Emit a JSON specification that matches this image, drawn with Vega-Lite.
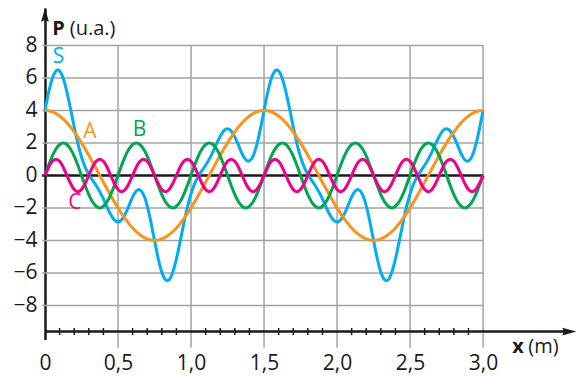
{
  "$schema": "https://vega.github.io/schema/vega-lite/v6.json",
  "width": 533,
  "height": 331.5,
  "autosize": {"type": "none"},
  "padding": {"left": 45, "top": 8, "right": 4, "bottom": 36.5},
  "background": "white",
  "config": {"view": {"stroke": null}, "font": "Open Sans"},
  "datasets": {
    "waves": [
      {"x":0,"S":4,"A":4,"B":0,"C":0},
      {"x":0.025,"S":5.1,"A":3.98,"B":0.62,"C":0.5},
      {"x":0.05,"S":5.96,"A":3.91,"B":1.18,"C":0.87},
      {"x":0.075,"S":6.42,"A":3.8,"B":1.62,"C":1},
      {"x":0.1,"S":6.42,"A":3.65,"B":1.9,"C":0.87},
      {"x":0.125,"S":5.96,"A":3.46,"B":2,"C":0.5},
      {"x":0.15,"S":5.14,"A":3.24,"B":1.9,"C":0},
      {"x":0.175,"S":4.09,"A":2.97,"B":1.62,"C":-0.5},
      {"x":0.2,"S":2.99,"A":2.68,"B":1.18,"C":-0.87},
      {"x":0.225,"S":1.97,"A":2.35,"B":0.62,"C":-1},
      {"x":0.25,"S":1.13,"A":2,"B":0,"C":-0.87},
      {"x":0.275,"S":0.51,"A":1.63,"B":-0.62,"C":-0.5},
      {"x":0.3,"S":0.06,"A":1.24,"B":-1.18,"C":0},
      {"x":0.325,"S":-0.29,"A":0.83,"B":-1.62,"C":0.5},
      {"x":0.35,"S":-0.62,"A":0.42,"B":-1.9,"C":0.87},
      {"x":0.375,"S":-1,"A":0,"B":-2,"C":1},
      {"x":0.4,"S":-1.45,"A":-0.42,"B":-1.9,"C":0.87},
      {"x":0.425,"S":-1.95,"A":-0.83,"B":-1.62,"C":0.5},
      {"x":0.45,"S":-2.41,"A":-1.24,"B":-1.18,"C":0},
      {"x":0.475,"S":-2.75,"A":-1.63,"B":-0.62,"C":-0.5},
      {"x":0.5,"S":-2.87,"A":-2,"B":0,"C":-0.87},
      {"x":0.525,"S":-2.73,"A":-2.35,"B":0.62,"C":-1},
      {"x":0.55,"S":-2.37,"A":-2.68,"B":1.18,"C":-0.87},
      {"x":0.575,"S":-1.86,"A":-2.97,"B":1.62,"C":-0.5},
      {"x":0.6,"S":-1.33,"A":-3.24,"B":1.9,"C":0},
      {"x":0.625,"S":-0.96,"A":-3.46,"B":2,"C":0.5},
      {"x":0.65,"S":-0.89,"A":-3.65,"B":1.9,"C":0.87},
      {"x":0.675,"S":-1.19,"A":-3.8,"B":1.62,"C":1},
      {"x":0.7,"S":-1.87,"A":-3.91,"B":1.18,"C":0.87},
      {"x":0.725,"S":-2.86,"A":-3.98,"B":0.62,"C":0.5},
      {"x":0.75,"S":-4,"A":-4,"B":0,"C":0},
      {"x":0.775,"S":-5.1,"A":-3.98,"B":-0.62,"C":-0.5},
      {"x":0.8,"S":-5.96,"A":-3.91,"B":-1.18,"C":-0.87},
      {"x":0.825,"S":-6.42,"A":-3.8,"B":-1.62,"C":-1},
      {"x":0.85,"S":-6.42,"A":-3.65,"B":-1.9,"C":-0.87},
      {"x":0.875,"S":-5.96,"A":-3.46,"B":-2,"C":-0.5},
      {"x":0.9,"S":-5.14,"A":-3.24,"B":-1.9,"C":0},
      {"x":0.925,"S":-4.09,"A":-2.97,"B":-1.62,"C":0.5},
      {"x":0.95,"S":-2.99,"A":-2.68,"B":-1.18,"C":0.87},
      {"x":0.975,"S":-1.97,"A":-2.35,"B":-0.62,"C":1},
      {"x":1,"S":-1.13,"A":-2,"B":0,"C":0.87},
      {"x":1.025,"S":-0.51,"A":-1.63,"B":0.62,"C":0.5},
      {"x":1.05,"S":-0.06,"A":-1.24,"B":1.18,"C":0},
      {"x":1.075,"S":0.29,"A":-0.83,"B":1.62,"C":-0.5},
      {"x":1.1,"S":0.62,"A":-0.42,"B":1.9,"C":-0.87},
      {"x":1.125,"S":1,"A":0,"B":2,"C":-1},
      {"x":1.15,"S":1.45,"A":0.42,"B":1.9,"C":-0.87},
      {"x":1.175,"S":1.95,"A":0.83,"B":1.62,"C":-0.5},
      {"x":1.2,"S":2.41,"A":1.24,"B":1.18,"C":0},
      {"x":1.225,"S":2.75,"A":1.63,"B":0.62,"C":0.5},
      {"x":1.25,"S":2.87,"A":2,"B":0,"C":0.87},
      {"x":1.275,"S":2.73,"A":2.35,"B":-0.62,"C":1},
      {"x":1.3,"S":2.37,"A":2.68,"B":-1.18,"C":0.87},
      {"x":1.325,"S":1.86,"A":2.97,"B":-1.62,"C":0.5},
      {"x":1.35,"S":1.33,"A":3.24,"B":-1.9,"C":0},
      {"x":1.375,"S":0.96,"A":3.46,"B":-2,"C":-0.5},
      {"x":1.4,"S":0.89,"A":3.65,"B":-1.9,"C":-0.87},
      {"x":1.425,"S":1.19,"A":3.8,"B":-1.62,"C":-1},
      {"x":1.45,"S":1.87,"A":3.91,"B":-1.18,"C":-0.87},
      {"x":1.475,"S":2.86,"A":3.98,"B":-0.62,"C":-0.5},
      {"x":1.5,"S":4,"A":4,"B":0,"C":0},
      {"x":1.525,"S":5.1,"A":3.98,"B":0.62,"C":0.5},
      {"x":1.55,"S":5.96,"A":3.91,"B":1.18,"C":0.87},
      {"x":1.575,"S":6.42,"A":3.8,"B":1.62,"C":1},
      {"x":1.6,"S":6.42,"A":3.65,"B":1.9,"C":0.87},
      {"x":1.625,"S":5.96,"A":3.46,"B":2,"C":0.5},
      {"x":1.65,"S":5.14,"A":3.24,"B":1.9,"C":0},
      {"x":1.675,"S":4.09,"A":2.97,"B":1.62,"C":-0.5},
      {"x":1.7,"S":2.99,"A":2.68,"B":1.18,"C":-0.87},
      {"x":1.725,"S":1.97,"A":2.35,"B":0.62,"C":-1},
      {"x":1.75,"S":1.13,"A":2,"B":0,"C":-0.87},
      {"x":1.775,"S":0.51,"A":1.63,"B":-0.62,"C":-0.5},
      {"x":1.8,"S":0.06,"A":1.24,"B":-1.18,"C":0},
      {"x":1.825,"S":-0.29,"A":0.83,"B":-1.62,"C":0.5},
      {"x":1.85,"S":-0.62,"A":0.42,"B":-1.9,"C":0.87},
      {"x":1.875,"S":-1,"A":0,"B":-2,"C":1},
      {"x":1.9,"S":-1.45,"A":-0.42,"B":-1.9,"C":0.87},
      {"x":1.925,"S":-1.95,"A":-0.83,"B":-1.62,"C":0.5},
      {"x":1.95,"S":-2.41,"A":-1.24,"B":-1.18,"C":0},
      {"x":1.975,"S":-2.75,"A":-1.63,"B":-0.62,"C":-0.5},
      {"x":2,"S":-2.87,"A":-2,"B":0,"C":-0.87},
      {"x":2.025,"S":-2.73,"A":-2.35,"B":0.62,"C":-1},
      {"x":2.05,"S":-2.37,"A":-2.68,"B":1.18,"C":-0.87},
      {"x":2.075,"S":-1.86,"A":-2.97,"B":1.62,"C":-0.5},
      {"x":2.1,"S":-1.33,"A":-3.24,"B":1.9,"C":0},
      {"x":2.125,"S":-0.96,"A":-3.46,"B":2,"C":0.5},
      {"x":2.15,"S":-0.89,"A":-3.65,"B":1.9,"C":0.87},
      {"x":2.175,"S":-1.19,"A":-3.8,"B":1.62,"C":1},
      {"x":2.2,"S":-1.87,"A":-3.91,"B":1.18,"C":0.87},
      {"x":2.225,"S":-2.86,"A":-3.98,"B":0.62,"C":0.5},
      {"x":2.25,"S":-4,"A":-4,"B":0,"C":0},
      {"x":2.275,"S":-5.1,"A":-3.98,"B":-0.62,"C":-0.5},
      {"x":2.3,"S":-5.96,"A":-3.91,"B":-1.18,"C":-0.87},
      {"x":2.325,"S":-6.42,"A":-3.8,"B":-1.62,"C":-1},
      {"x":2.35,"S":-6.42,"A":-3.65,"B":-1.9,"C":-0.87},
      {"x":2.375,"S":-5.96,"A":-3.46,"B":-2,"C":-0.5},
      {"x":2.4,"S":-5.14,"A":-3.24,"B":-1.9,"C":0},
      {"x":2.425,"S":-4.09,"A":-2.97,"B":-1.62,"C":0.5},
      {"x":2.45,"S":-2.99,"A":-2.68,"B":-1.18,"C":0.87},
      {"x":2.475,"S":-1.97,"A":-2.35,"B":-0.62,"C":1},
      {"x":2.5,"S":-1.13,"A":-2,"B":0,"C":0.87},
      {"x":2.525,"S":-0.51,"A":-1.63,"B":0.62,"C":0.5},
      {"x":2.55,"S":-0.06,"A":-1.24,"B":1.18,"C":0},
      {"x":2.575,"S":0.29,"A":-0.83,"B":1.62,"C":-0.5},
      {"x":2.6,"S":0.62,"A":-0.42,"B":1.9,"C":-0.87},
      {"x":2.625,"S":1,"A":0,"B":2,"C":-1},
      {"x":2.65,"S":1.45,"A":0.42,"B":1.9,"C":-0.87},
      {"x":2.675,"S":1.95,"A":0.83,"B":1.62,"C":-0.5},
      {"x":2.7,"S":2.41,"A":1.24,"B":1.18,"C":0},
      {"x":2.725,"S":2.75,"A":1.63,"B":0.62,"C":0.5},
      {"x":2.75,"S":2.87,"A":2,"B":0,"C":0.87},
      {"x":2.775,"S":2.73,"A":2.35,"B":-0.62,"C":1},
      {"x":2.8,"S":2.37,"A":2.68,"B":-1.18,"C":0.87},
      {"x":2.825,"S":1.86,"A":2.97,"B":-1.62,"C":0.5},
      {"x":2.85,"S":1.33,"A":3.24,"B":-1.9,"C":0},
      {"x":2.875,"S":0.96,"A":3.46,"B":-2,"C":-0.5},
      {"x":2.9,"S":0.89,"A":3.65,"B":-1.9,"C":-0.87},
      {"x":2.925,"S":1.19,"A":3.8,"B":-1.62,"C":-1},
      {"x":2.95,"S":1.87,"A":3.91,"B":-1.18,"C":-0.87},
      {"x":2.975,"S":2.86,"A":3.98,"B":-0.62,"C":-0.5},
      {"x":3,"S":4,"A":4,"B":0,"C":0}
    ],
    "hgrid": [{"y":-8,"x":-0.02,"x2":3},{"y":-6,"x":-0.02,"x2":3},{"y":-4,"x":-0.02,"x2":3},{"y":-2,"x":-0.02,"x2":3},{"y":2,"x":-0.02,"x2":3},{"y":4,"x":-0.02,"x2":3},{"y":6,"x":-0.02,"x2":3},{"y":8,"x":-0.02,"x2":3}],
    "vgrid": [{"x":0.5,"y":8,"y2":-10.6},{"x":1,"y":8,"y2":-10.6},{"x":1.5,"y":8,"y2":-10.6},{"x":2,"y":8,"y2":-10.6},{"x":2.5,"y":8,"y2":-10.6},{"x":3,"y":8,"y2":-10.6}],
    "blacklines": [{"x":-0.02,"x2":3,"y":0},{"x":0,"x2":3.56,"y":-9.61}],
    "xticks": [{"x":0.1,"y":-9.61},{"x":0.2,"y":-9.61},{"x":0.3,"y":-9.61},{"x":0.4,"y":-9.61},{"x":0.6,"y":-9.61},{"x":0.7,"y":-9.61},{"x":0.8,"y":-9.61},{"x":0.9,"y":-9.61},{"x":1.1,"y":-9.61},{"x":1.2,"y":-9.61},{"x":1.3,"y":-9.61},{"x":1.4,"y":-9.61},{"x":1.6,"y":-9.61},{"x":1.7,"y":-9.61},{"x":1.8,"y":-9.61},{"x":1.9,"y":-9.61},{"x":2.1,"y":-9.61},{"x":2.2,"y":-9.61},{"x":2.3,"y":-9.61},{"x":2.4,"y":-9.61},{"x":2.6,"y":-9.61},{"x":2.7,"y":-9.61},{"x":2.8,"y":-9.61},{"x":2.9,"y":-9.61}],
    "curvelabels": [{"curve":"S","x":0.092,"y":7.26},{"curve":"A","x":0.307,"y":2.68},{"curve":"B","x":0.647,"y":2.78},{"curve":"C","x":0.205,"y":-1.69}],
    "boldtitles": [{"t":"P","x":0.049,"y":8.65},{"t":"x","x":3.2,"y":-10.94}],
    "unittitles": [{"t":"(u.a.)","x":0.17,"y":8.65},{"t":"(m)","x":3.31,"y":-10.94}],
    "uparrow": [{"x":0,"y":9.88}],
    "rightarrow": [{"x":3.59,"y":-9.61}]
  },
  "encoding": {
    "x": {"field": "x", "type": "quantitative",
      "scale": {"domain": [0, 3.65], "nice": false, "zero": false},
      "axis": {"orient": "bottom", "values": [0,0.5,1,1.5,2,2.5,3], "domain": false, "ticks": false, "grid": false,
        "labelExpr": "datum.value == 0 ? '0' : replace(format(datum.value, '.1f'), '.', ',')",
        "labelFontSize": 21, "labelColor": "#1a1a1a", "labelPadding": 13, "labelFlush": false, "labelOverlap": false, "labelBound": false, "title": null}},
    "y": {"field": "y", "type": "quantitative",
      "scale": {"domain": [-10.1, 10.3], "nice": false, "zero": false},
      "axis": {"orient": "left", "values": [-8,-6,-4,-2,0,2,4,6,8], "format": "d", "domain": true, "domainColor": "#1a1a1a", "domainWidth": 2.5, "ticks": false, "grid": false,
        "labelFontSize": 21, "labelColor": "#1a1a1a", "labelPadding": 8, "labelFlush": false, "labelOverlap": false, "labelBound": false, "title": null}}
  },
  "layer": [
    {
      "data": {"name": "hgrid"},
      "mark": {"type": "rule", "color": "#a3a3a3", "strokeWidth": 1.5},
      "encoding": {"x2": {"field": "x2"}}
    },
    {
      "data": {"name": "vgrid"},
      "mark": {"type": "rule", "color": "#a3a3a3", "strokeWidth": 1.5},
      "encoding": {"y2": {"field": "y2"}}
    },
    {
      "data": {"name": "blacklines"},
      "mark": {"type": "rule", "color": "#1a1a1a", "strokeWidth": 2.5},
      "encoding": {"x2": {"field": "x2"}}
    },
    {
      "data": {"name": "xticks"},
      "mark": {"type": "tick", "orient": "vertical", "size": 7, "thickness": 1.5, "color": "#1a1a1a", "opacity": 1}
    },
    {
      "data": {"name": "waves"},
      "transform": [{"fold": ["S", "A", "B", "C"], "as": ["curve", "y"]}],
      "mark": {"type": "line", "interpolate": "natural", "strokeWidth": 3},
      "encoding": {
        "color": {"field": "curve", "type": "nominal", "scale": {"domain": ["S", "A", "B", "C"], "range": ["#00aeef", "#f7941d", "#00a651", "#ec008c"]}, "legend": null}
      }
    },
    {
      "data": {"name": "curvelabels"},
      "mark": {"type": "text", "fontSize": 21, "align": "center", "baseline": "middle"},
      "encoding": {
        "text": {"field": "curve"},
        "color": {"field": "curve", "type": "nominal", "legend": null}
      }
    },
    {
      "data": {"name": "boldtitles"},
      "mark": {"type": "text", "fontSize": 20, "fontWeight": "bold", "align": "left", "baseline": "alphabetic", "color": "#1a1a1a"},
      "encoding": {"text": {"field": "t"}}
    },
    {
      "data": {"name": "unittitles"},
      "mark": {"type": "text", "fontSize": 20, "align": "left", "baseline": "alphabetic", "color": "#1a1a1a"},
      "encoding": {"text": {"field": "t"}}
    },
    {
      "data": {"name": "uparrow"},
      "mark": {"type": "point", "shape": "M0,-1L-0.55,1L0,0.75L0.55,1Z", "size": 196, "filled": true, "color": "#1a1a1a", "opacity": 1, "strokeWidth": 0}
    },
    {
      "data": {"name": "rightarrow"},
      "mark": {"type": "point", "shape": "M1,0L-1,-0.55L-0.75,0L-1,0.55Z", "size": 196, "filled": true, "color": "#1a1a1a", "opacity": 1, "strokeWidth": 0}
    }
  ]
}
